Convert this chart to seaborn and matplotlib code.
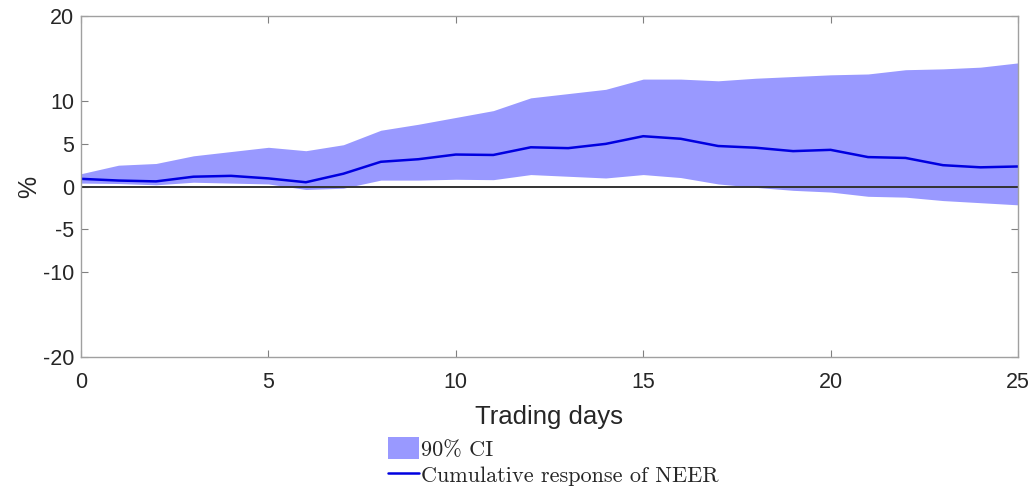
import numpy as np
import pandas as pd
import matplotlib
matplotlib.use("Agg")
import matplotlib.pyplot as plt
import seaborn as sns
from matplotlib.patches import Patch
from matplotlib.lines import Line2D

# datos
days = list(range(26))
response = [0.9, 0.7, 0.6, 1.15, 1.25, 0.95, 0.5, 1.5, 2.9, 3.2, 3.75, 3.7, 4.6, 4.5,
            5.0, 5.9, 5.6, 4.75, 4.55, 4.15, 4.3, 3.45, 3.35, 2.5, 2.25, 2.35]
ci_upper = [1.5, 2.5, 2.7, 3.6, 4.1, 4.6, 4.2, 4.9, 6.6, 7.3, 8.1, 8.9, 10.4, 10.9,
            11.4, 12.6, 12.6, 12.4, 12.7, 12.9, 13.1, 13.2, 13.7, 13.8, 14.0, 14.5]
ci_lower = [0.4, 0.35, 0.2, 0.5, 0.4, 0.3, -0.35, -0.2, 0.75, 0.75, 0.85, 0.8, 1.4, 1.2,
            1.0, 1.4, 1.05, 0.3, -0.1, -0.45, -0.65, -1.15, -1.25, -1.65, -1.9, -2.15]
yticks = [-20, -10, -5, 0, 5, 10, 20]
xticks = [0, 5, 10, 15, 20, 25]
legend_labels = ["90% CI", "Cumulative response of NEER"]

df = pd.DataFrame({"day": days, "resp": response, "lo": ci_lower, "hi": ci_upper})

sns.set_theme(style="white")
plt.rcParams['font.family'] = ['Liberation Sans', 'DejaVu Sans']

fig = plt.figure(figsize=(10.36, 4.91), dpi=100)
ax = fig.add_axes([0.0782, 0.2729, 0.9044, 0.6945])

fill_col = "#9999FF"
line_col = "#0000E0"

ax.fill_between(df["day"], df["lo"], df["hi"], color=fill_col, linewidth=0)
ax.axhline(0, color="#333333", linewidth=1.4)
sns.lineplot(data=df, x="day", y="resp", color=line_col, linewidth=1.8, ax=ax)

ax.set_xlim(0, 25)
ax.set_ylim(-20, 20)
ax.set_yticks(yticks)
ax.set_yticklabels([str(t) for t in yticks])
ax.set_xticks(xticks)
ax.tick_params(direction="in", length=5, width=0.8, color="#808080",
               labelsize=15.5, labelcolor="#262626", top=True, right=True,
               left=True, bottom=True, pad=5)
ax.tick_params(axis="x", pad=10.5)
for s in ax.spines.values():
    s.set_color("#a0a0a0")
    s.set_linewidth(1.0)

ax.set_xlabel("Trading days", fontsize=18.5, color="#262626", labelpad=9)
ax.set_ylabel("%", fontsize=18, color="#262626", labelpad=1)

# leyenda debajo del grafico, estilo LaTeX
handles = [Patch(facecolor=fill_col, edgecolor="none"),
           Line2D([0], [0], color=line_col, linewidth=1.8)]
leg = fig.legend(handles, legend_labels,
                 loc="upper left", bbox_to_anchor=(0.3745, 0.109), frameon=False,
                 prop={"family": "cmr10", "size": 16},
                 handlelength=1.4, handleheight=1.1, handletextpad=0.1,
                 labelspacing=0.2, borderpad=0, borderaxespad=0)

fig.savefig("out.png", dpi=100)
